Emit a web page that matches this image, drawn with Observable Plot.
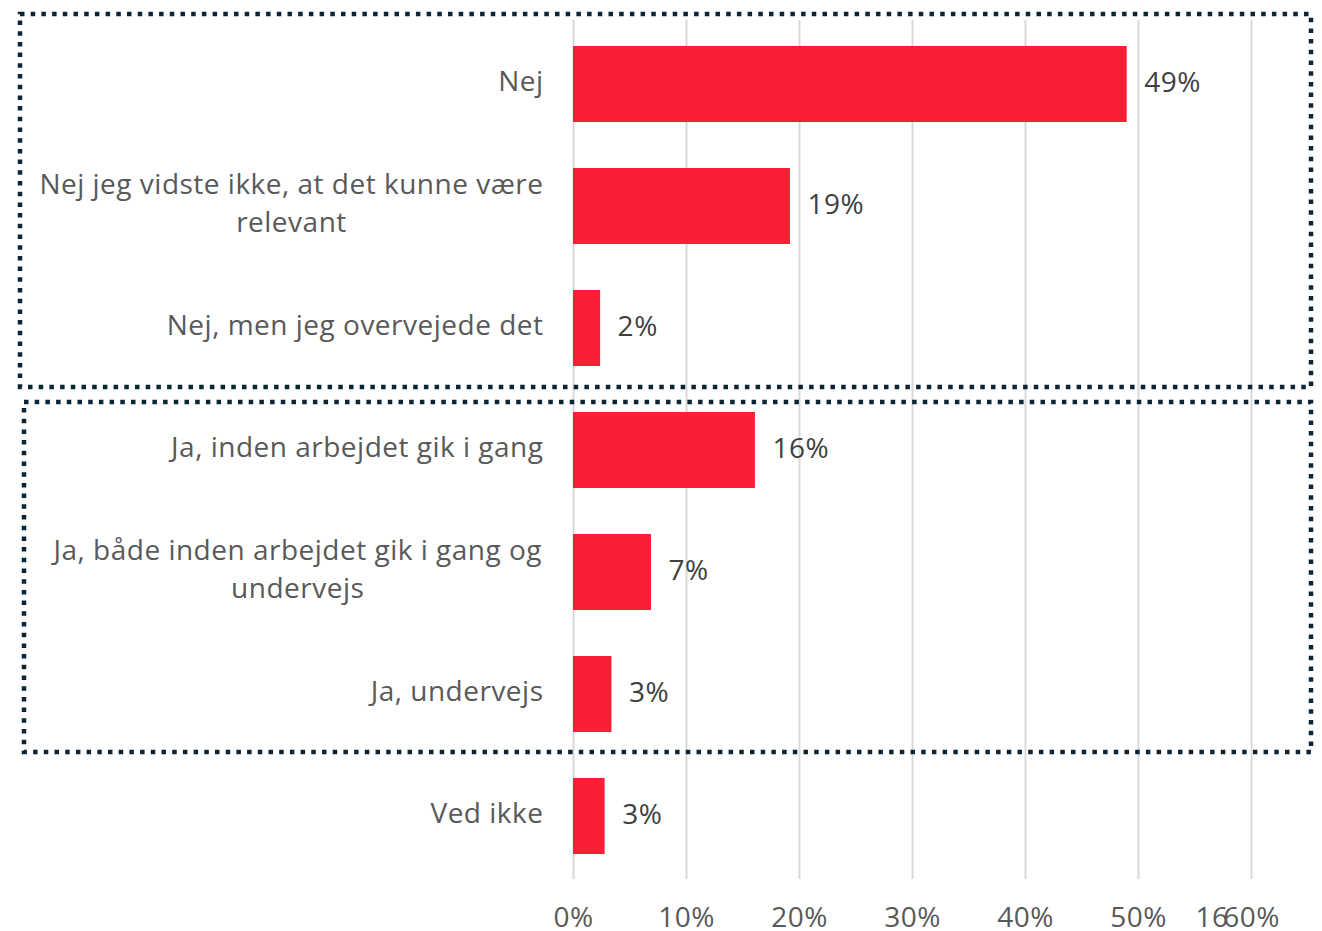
<!DOCTYPE html>
<html>
<head>
<meta charset="utf-8">
<script src="https://cdn.jsdelivr.net/npm/d3@7"></script>
<script src="https://cdn.jsdelivr.net/npm/@observablehq/plot@0.6"></script>
<style>
  html, body { margin: 0; padding: 0; background: #fff; }
  #chart svg { display: block; }
  #chart svg text { letter-spacing: 0.5px; }
</style>
</head>
<body>
<div id="chart"></div>
<script>
const categories = [
  "Nej",
  "Nej jeg vidste ikke, at det kunne være\nrelevant",
  "Nej, men jeg overvejede det",
  "Ja, inden arbejdet gik i gang",
  "Ja, både inden arbejdet gik i gang og\nundervejs",
  "Ja, undervejs",
  "Ved ikke"
];
const values = [0.49, 0.192, 0.024, 0.161, 0.069, 0.034, 0.028];
const valueLabels = ["49%", "19%", "2%", "16%", "7%", "3%", "3%"];
const xTicks = [0, 0.1, 0.2, 0.3, 0.4, 0.5, 0.6];
const strayLabel = {x: 0.565, text: "16"};
const groupNej = ["Nej", "Nej, men jeg overvejede det"];
const groupJa = ["Ja, inden arbejdet gik i gang", "Ja, undervejs"];

const data = categories.map((c, i) => ({cat: c, value: values[i], label: valueLabels[i]}));
const font = "'Open Sans', sans-serif";

const plot = Plot.plot({
  width: 1322,
  height: 931,
  marginLeft: 573,
  marginRight: 71,
  marginTop: 20,
  marginBottom: 52,
  style: {fontFamily: font, fontSize: "28px", background: "#fff"},
  x: {domain: [0, 0.6], axis: null},
  y: {domain: categories, paddingInner: 0.38, paddingOuter: 0.19, axis: null},
  marks: [
    Plot.ruleX(xTicks, {x: d => d, stroke: "#d9d9d9", strokeWidth: 2}),
    Plot.barX(data, {x: "value", y: "cat", fill: "#fb1f35"}),
    Plot.text(data, {x: "value", y: "cat", text: "label", dx: 17, dy: -1, textAnchor: "start", fill: "#404040", fontSize: 28}),
    Plot.text(data, {x: 0, y: "cat", text: "cat", dx: -30, dy: -6, textAnchor: "end", fill: "#595959", fontSize: 28, lineHeight: 1.36, className: "catlabels"}),
    Plot.axisX({ticks: xTicks, tickFormat: d => Math.round(d * 100) + "%", tickSize: 0, tickPadding: 28, fill: "#595959", fontSize: 28}),
    Plot.text([strayLabel], {x: "x", text: "text", frameAnchor: "bottom", dy: 39, fill: "#595959", fontSize: 28, lineAnchor: "middle"})
  ]
});

document.getElementById("chart").appendChild(plot);

const svg = d3.select(plot);

// center multi-line category labels on their own width (right edge stays at the anchor)
svg.selectAll("g.catlabels text").each(function() {
  const t = d3.select(this);
  if (t.selectAll("tspan").size() > 1) {
    const w = this.getBBox().width;
    const tr = t.attr("transform") || "";
    t.attr("text-anchor", "middle");
    t.attr("transform", tr + ` translate(${-w / 2},0)`);
  }
});

// dotted group boxes, positioned from the y scale
const ys = plot.scale("y");
const bw = ys.bandwidth;
function box(first, last, left, padTop, padBot) {
  const top = ys.apply(first) - padTop;
  const bottom = ys.apply(last) + bw + padBot;
  svg.append("rect")
    .attr("x", left).attr("y", top)
    .attr("width", 1311 - left).attr("height", bottom - top)
    .attr("fill", "none").attr("stroke", "#0b2436")
    .attr("stroke-width", 4.5).attr("stroke-dasharray", "4.5,6.2");
}
box(groupNej[0], groupNej[1], 20, 32, 21);
box(groupJa[0], groupJa[1], 24, 10, 20);
</script>
</body>
</html>
